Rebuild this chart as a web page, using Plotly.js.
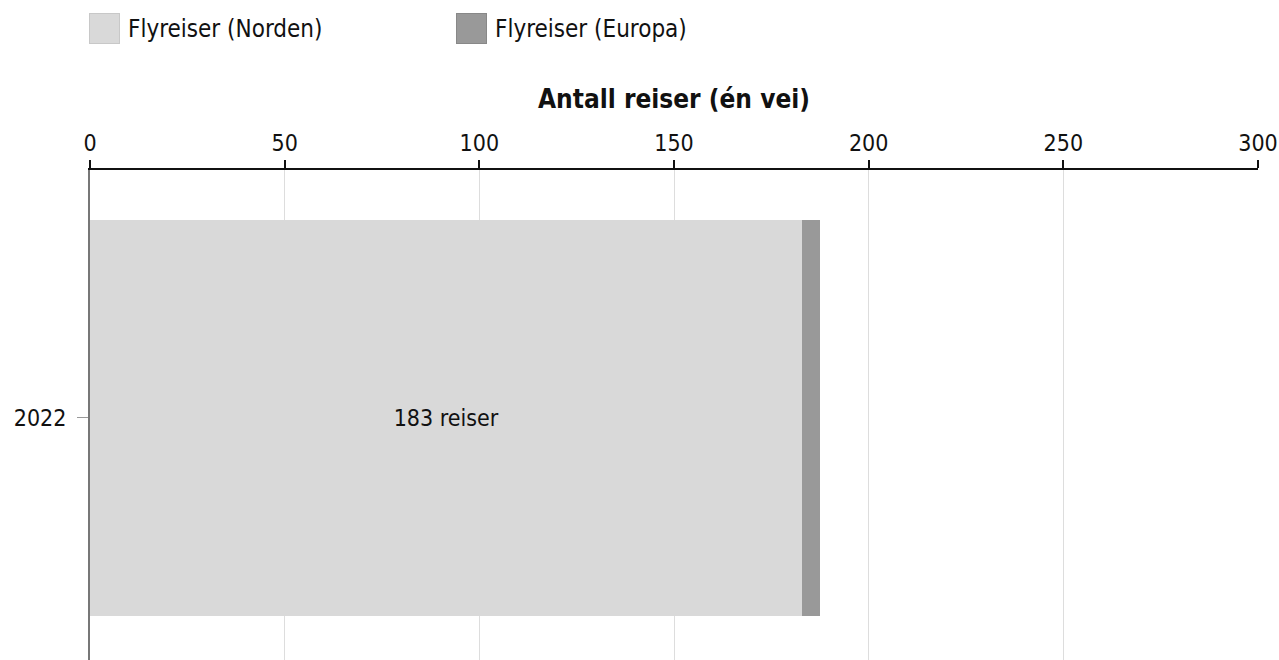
<!DOCTYPE html>
<html>
<head>
<meta charset="utf-8">
<script src="https://cdn.plot.ly/plotly-3.0.1.min.js"></script>
<style>
    html, body { margin: 0; padding: 0; overflow: hidden; background: #fff; }
    #wrap { position: relative; width: 1279px; height: 660px; }
    #chart { position: absolute; left: 0; top: 0; }
    #legend {
        position: absolute; left: 89px; top: 13px; display: flex;
        font-family: "DejaVu Sans Condensed", "DejaVu Sans", sans-serif; font-size: 24px; color: #111;
    }
    .item { display: flex; align-items: center; width: 367px; }
    .swatch { width: 29px; height: 29px; border: 1px solid; margin-right: 8px; }
</style>
</head>
<body>
<div id="wrap">
    <div id="chart"></div>
    <div id="legend"></div>
</div>
<script>
    // data
    var years = ['2022'];
    var seriesNames = ['Flyreiser (Norden)', 'Flyreiser (Europa)'];
    var norden = [183];
    var europa = [4.5];
    var labels = ['183 reiser'];
    var colors = ['#d9d9d9', '#999999'];
    var borders = ['#c8c8c8', '#888888'];

    var fontFam = 'DejaVu Sans Condensed, DejaVu Sans, sans-serif';

    var data = [
        {
            type: 'bar', orientation: 'h',
            name: seriesNames[0],
            x: norden, y: years,
            text: labels, textposition: 'inside', insidetextanchor: 'middle',
            textfont: {family: fontFam, size: 23, color: '#111'},
            marker: {color: colors[0]},
            hoverinfo: 'none'
        },
        {
            type: 'bar', orientation: 'h',
            name: seriesNames[1],
            x: europa, y: years,
            marker: {color: colors[1]},
            hoverinfo: 'none'
        }
    ];

    var layout = {
        width: 1279, height: 665,
        margin: {t: 170, l: 90, r: 21, b: 0},
        barmode: 'stack',
        bargap: 0.2,
        showlegend: false,
        font: {family: fontFam, size: 23, color: '#111'},
        paper_bgcolor: '#fff', plot_bgcolor: '#fff',
        xaxis: {
            side: 'top',
            range: [0, 300],
            dtick: 50,
            showgrid: true, gridcolor: '#dddddd', gridwidth: 1,
            zeroline: false,
            showline: true, linecolor: '#111', linewidth: 2,
            ticks: 'outside', ticklen: 8, tickwidth: 2, tickcolor: '#111',
            title: {text: '<b>Antall reiser (én vei)</b>', font: {size: 26}, standoff: 14}
        },
        yaxis: {
            type: 'category',
            showgrid: false, zeroline: false,
            showline: true, linecolor: '#777', linewidth: 2,
            ticks: 'outside', ticklen: 11, tickwidth: 1, tickcolor: '#999',
            ticklabelstandoff: 6
        }
    };

    Plotly.newPlot('chart', data, layout, {displayModeBar: false, staticPlot: true});

    // custom legend with big squares
    var legend = document.getElementById('legend');
    for (var i = 0; i < seriesNames.length; i++) {
        var item = document.createElement('div');
        item.className = 'item';
        var sw = document.createElement('div');
        sw.className = 'swatch';
        sw.style.background = colors[i];
        sw.style.borderColor = borders[i];
        var txt = document.createElement('span');
        txt.textContent = seriesNames[i];
        item.appendChild(sw);
        item.appendChild(txt);
        legend.appendChild(item);
    }
</script>
</body>
</html>
